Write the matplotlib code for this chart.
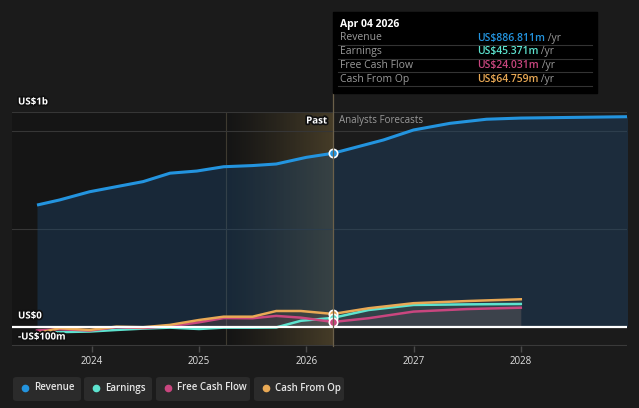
import numpy as np
import matplotlib.pyplot as plt
import matplotlib.patheffects as pe
from matplotlib.patches import FancyBboxPatch, Rectangle
from matplotlib.text import Annotation

plt.rcParams["font.family"] = ["Open Sans", "DejaVu Sans"]

# data (US$ m), time as decimal years
rev_years = [2023.49, 2023.70, 2023.98, 2024.23, 2024.48, 2024.73, 2024.98, 2025.23,
             2025.50, 2025.72, 2026.00, 2026.25, 2026.72, 2027.00, 2027.34, 2027.68,
             2028.00, 2029.00]
revenue = [622, 648, 690, 716, 742, 785, 796, 818, 824, 832, 866, 887, 955, 1006,
           1040, 1061, 1067, 1074]

past_years = [2023.49, 2023.70, 2023.98, 2024.23, 2024.48, 2024.73, 2025.00, 2025.23,
              2025.50, 2025.72, 2025.95, 2026.25]
fc_years = [2026.25, 2026.58, 2027.00, 2027.50, 2028.00]
earnings_past = [-34, -28, -25, -17, -10, -5, -12, -5, -5, -4, 30, 45]
earnings_fc = [45, 85, 111, 114, 116]
fcf_past = [-20, -13, -20, -3, -7, 2, 22, 44, 43, 55, 46, 24]
fcf_fc = [24, 43, 77, 90, 97]
cfo_past = [-34, -8, -17, 0, -3, 9, 34, 51, 51, 80, 80, 65]
cfo_fc = [65, 94, 120, 131, 140]

today = 2026.25
band_start = 2025.25
tooltip_rows = [("Revenue", "US$886.811m"), ("Earnings", "US$45.371m"),
                ("Free Cash Flow", "US$24.031m"), ("Cash From Op", "US$64.759m")]
year_ticks = [2024, 2025, 2026, 2027, 2028]

C_REV = "#2394df"
C_EARN = "#5de3cf"
C_FCF = "#c9467f"
C_CFO = "#e9a955"
BG = "#1b1b1b"

fig = plt.figure(figsize=(6.39, 4.08), dpi=100, facecolor=BG)
W, H = 639, 408
ax = fig.add_axes([12 / W, (H - 346) / H, 615 / W, 234 / H])
ax.set_facecolor(BG)
x0, x1 = 2023.257, 2028.99
ax.set_xlim(x0, x1)
ax.set_ylim(-99, 1098)
for s in ax.spines.values():
    s.set_visible(False)

# darker past background, gold gradient band
ax.axvspan(x0, today, color="black", alpha=0.22, lw=0, zorder=0)
grad = np.linspace(0, 1, 256).reshape(1, -1)
rgba = np.zeros((1, 256, 4))
rgba[..., 0], rgba[..., 1], rgba[..., 2] = 0.80, 0.66, 0.36
rgba[..., 3] = grad ** 1.2 * 0.27
ax.imshow(rgba, extent=[band_start, today, -99, 1098], aspect="auto", zorder=1,
          interpolation="bilinear")
ax.axvline(band_start, color="#3e3a30", lw=0.8, zorder=1)

# grid
for v in [500, 1000, 1098]:
    ax.axhline(v, color="#363636", lw=0.8, zorder=1)
ax.axhline(-99, color="#3a3a3a", lw=1.5, zorder=1)

# revenue
ax.fill_between(rev_years, revenue, 0, color="#1f4e7a", alpha=0.35, lw=0, zorder=2)
ax.plot(rev_years, revenue, color=C_REV, lw=2.2, zorder=5, solid_capstyle="butt")

# other series
for past, fc, col in [(earnings_past, earnings_fc, C_EARN),
                      (fcf_past, fcf_fc, C_FCF),
                      (cfo_past, cfo_fc, C_CFO)]:
    ys = past + fc[1:]
    xs = past_years + fc_years[1:]
    ax.fill_between(xs, ys, 0, color=col, alpha=0.08, lw=0, zorder=3)
    ax.plot(xs, ys, color=col, lw=1.8, zorder=6)

ax.axhline(0, color="white", lw=1.6, zorder=7)

# today line and markers
fig.add_artist(plt.Line2D([333 / W, 333 / W], [(H - 93) / H, (H - 346) / H],
                          color="#6b604a", lw=0.9))
for val, col in [(revenue[11], C_REV), (cfo_fc[0], C_CFO), (earnings_fc[0], C_EARN),
                 (fcf_fc[0], C_FCF)]:
    ax.plot([today], [val], "o", ms=6, mfc=col, mec="white", mew=1.2, zorder=9)

# ticks
ax.set_xticks(year_ticks)
ax.set_xticklabels([str(y) for y in year_ticks])
ax.tick_params(axis="x", colors="#4a4a4a", length=4, width=1, labelcolor="#e0e0e0",
               labelsize=7, pad=3)
ax.set_yticks([])

outline = [pe.withStroke(linewidth=2.5, foreground="#111111")]
for txt, y in [("US$1b", 102), ("US$0", 316), ("-US$100m", 337)]:
    fig.text(18 / W, 1 - y / H, txt, color="white", fontsize=7, fontweight="bold",
             va="center", ha="left", path_effects=outline, zorder=10)
fig.text(327 / W, 1 - 121 / H, "Past", color="white", fontsize=7, fontweight="bold",
         va="center", ha="right", path_effects=outline)
fig.text(339 / W, 1 - 121 / H, "Analysts Forecasts", color="#9a9a9a", fontsize=7,
         va="center", ha="left")

# tooltip
fig.patches.append(Rectangle((333 / W, 1 - 93 / H), 264 / W, 81 / H,
                             transform=fig.transFigure, color="black", zorder=5))
fig.text(340 / W, 1 - 24 / H, "Apr 04 2026", color="white", fontsize=7.5,
         fontweight="bold", va="center", zorder=6)
for i, ((lab, val), col) in enumerate(zip(tooltip_rows, [C_REV, C_EARN, C_FCF, C_CFO])):
    y = 38 + i * 13.7
    fig.text(340 / W, 1 - y / H, lab, color="#9a9a9a", fontsize=7.5, va="center",
             zorder=6)
    t = fig.text(477 / W, 1 - y / H, val, color=col, fontsize=7.5, va="center",
                 fontweight="semibold", zorder=6)
    ann = Annotation(" /yr", xy=(1, 0.5), xycoords=t, va="center", ha="left",
                     color="#9a9a9a", fontsize=7.5, annotation_clip=False)
    ann.set_zorder(6)
    fig.add_artist(ann)
    fig.add_artist(plt.Line2D([338 / W, 592 / W], [1 - (y + 7) / H] * 2,
                              color="#333333", lw=0.8, zorder=6))

# legend pills
legend_items = [("Revenue", C_REV, 13, 68), ("Earnings", C_EARN, 84, 68),
                ("Free Cash Flow", C_FCF, 156, 94), ("Cash From Op", C_CFO, 254, 90)]
for lab, col, lx, lw_ in legend_items:
    fig.patches.append(FancyBboxPatch((lx / W, 1 - 401 / H), lw_ / W, 24 / H,
                                      boxstyle="round,pad=0,rounding_size=0.006",
                                      transform=fig.transFigure, fc="#2b2b2b",
                                      ec="none"))
    fig.add_artist(plt.Line2D([(lx + 12) / W], [1 - 388 / H], marker="o", ms=4.5,
                              color=col, lw=0))
    fig.text((lx + 21) / W, 1 - 388 / H, lab, color="#e6e6e6", fontsize=7,
             fontweight="semibold", va="center", ha="left")

fig.savefig("out.png", dpi=100, facecolor=BG)
